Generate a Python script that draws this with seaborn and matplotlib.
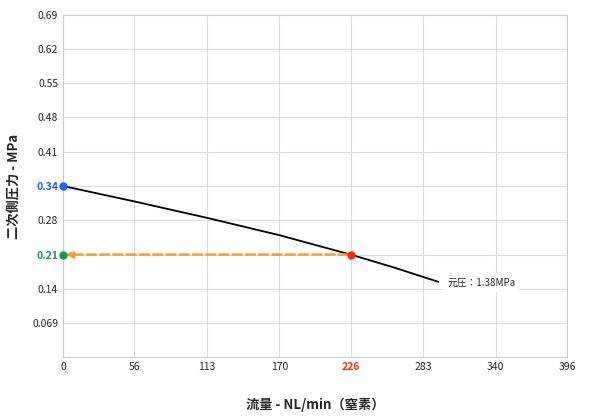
import matplotlib
matplotlib.use("Agg")
import matplotlib.pyplot as plt
import seaborn as sns
import pandas as pd

flow = [0, 56, 113, 170, 226, 260, 295]
pressure = [0.345, 0.314, 0.281, 0.246, 0.207, 0.181, 0.152]
xticks = [0, 56, 113, 170, 226, 283, 340, 396]
yticks = [0.069, 0.138, 0.207, 0.276, 0.345, 0.414, 0.483, 0.552, 0.621, 0.69]
ylabels = ["0.069", "0.14", "0.21", "0.28", "0.34", "0.41", "0.48", "0.55", "0.62", "0.69"]
supply = "元圧：1.38MPa"

sns.set_style("whitegrid")
plt.rcParams['font.family'] = ['Noto Sans CJK JP', 'DejaVu Sans']

fig, ax = plt.subplots(figsize=(6.0, 4.18), dpi=100)
fig.subplots_adjust(left=0.105, right=0.945, top=0.965, bottom=0.145)
df = pd.DataFrame({"flow": flow, "p": pressure})
sns.lineplot(data=df, x="flow", y="p", color="black", lw=1.3, ax=ax)

ax.annotate("", xy=(0, pressure[4]), xytext=(flow[4], pressure[4]),
            arrowprops=dict(arrowstyle="-|>", color="#f0a030", lw=1.8, ls="--"))
ax.scatter([0], [pressure[0]], color="#1f5fff", s=25, zorder=5, clip_on=False)
ax.scatter([0], [pressure[4]], color="#1a9850", s=25, zorder=5, clip_on=False)
ax.scatter([flow[4]], [pressure[4]], color="#ff2a00", s=25, zorder=5)
ax.text(302, 0.15, supply, fontsize=7, va="center",
        bbox=dict(boxstyle="square,pad=0.4", fc="white", ec="none"))

ax.set_xlim(0, 396)
ax.set_ylim(0, 0.69)
ax.set_xticks(xticks)
ax.set_xticklabels([str(t) for t in xticks], fontsize=7.5)
ax.set_yticks(yticks)
ax.set_yticklabels(ylabels, fontsize=7.5)
ax.get_xticklabels()[4].set_color("#ff2a00"); ax.get_xticklabels()[4].set_fontweight("bold")
ax.get_yticklabels()[4].set_color("#1f5fff"); ax.get_yticklabels()[4].set_fontweight("bold")
ax.get_yticklabels()[2].set_color("#1a9850"); ax.get_yticklabels()[2].set_fontweight("bold")
ax.tick_params(length=0)
ax.grid(color="#dddddd", lw=0.8)
for s in ax.spines.values():
    s.set_color("#cccccc")
ax.set_xlabel("流量 - NL/min（窒素）", fontsize=9.5, fontweight="bold", labelpad=18)
ax.set_ylabel("二次側圧力 - MPa", fontsize=9.5, fontweight="bold", labelpad=8)
fig.savefig("out.png")
